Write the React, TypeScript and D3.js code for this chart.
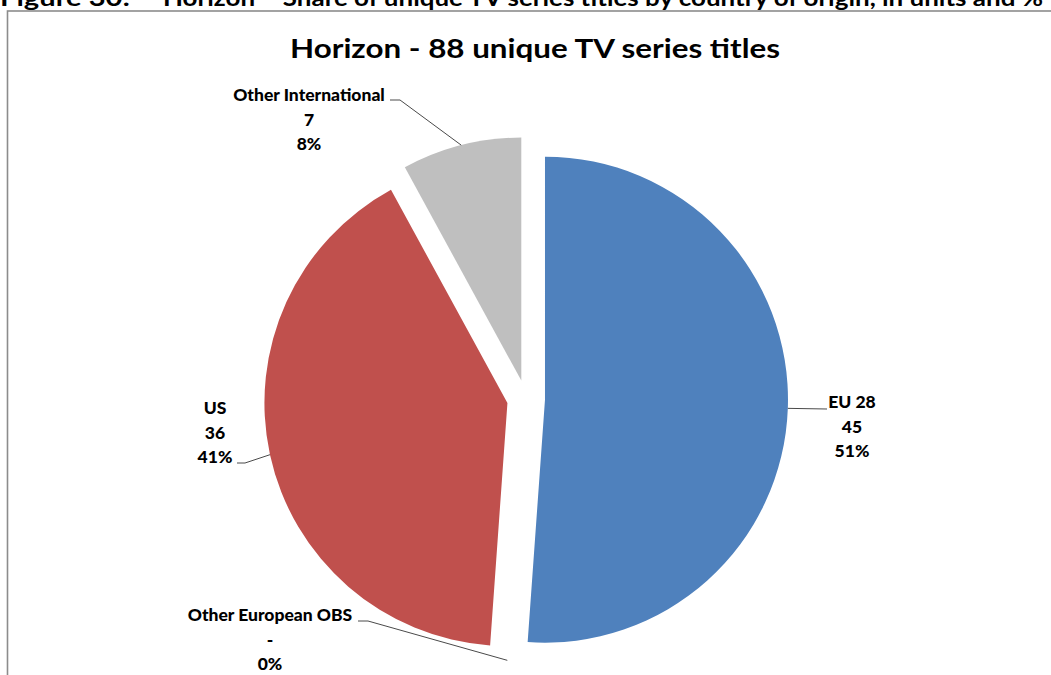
import React from "react";
import * as d3 from "d3";

const categories = ["EU 28", "Other European OBS", "US", "Other International"];
const values = [45, 0, 36, 7];
const valueLabels = ["45", "-", "36", "7"];
const colors = ["#4F81BD", "#8064A2", "#C0504D", "#BFBFBF"];
const chartTitle = "Horizon - 88 unique TV series titles";
const captionLead = "Figure 30:";
const captionText = "Horizon \u2013 Share of unique TV series titles by country of origin, in units and %";

// label layout: center x, first baseline y, leader elbow x, leader end x, leader y
const labelLayout: Record<string, { x: number; y: number; elbow: number; end: number; ly: number }> = {
  "EU 28": { x: 852, y: 408, elbow: 827, end: 827, ly: 409 },
  "Other European OBS": { x: 270, y: 621, elbow: 368, end: 358, ly: 621 },
  US: { x: 215, y: 414, elbow: 245, end: 237, ly: 463 },
  "Other International": { x: 309, y: 101, elbow: 400, end: 390, ly: 100 },
};

export default function App() {
  const W = 1051;
  const H = 675;
  const cx = 526;
  const cy = 399;
  const r = 243;
  const explode = 19;
  const total = d3.sum(values);

  const pie = d3
    .pie<number>()
    .sort(null)
    .startAngle(0)
    .endAngle(2 * Math.PI)
    .value((d) => d);
  const arcs = pie(values);
  const arcGen = d3.arc<d3.PieArcDatum<number>>().innerRadius(0).outerRadius(r);

  const dir = (a: number) => [Math.sin(a), -Math.cos(a)];
  const font = "Lato, 'Open Sans', sans-serif";

  return (
    <svg
      width={W}
      height={H}
      style={{ position: "absolute", left: 0, top: 0, background: "#fff" }}
    >
      <rect x={0} y={0} width={W} height={H} fill="#fff" />
      <text
        x={0}
        y={6}
        fontFamily={font}
        fontWeight="bold"
        fontSize={22}
        fill="#000"
        textLength={130}
        lengthAdjust="spacingAndGlyphs"
      >
        {captionLead}
      </text>
      <text
        x={163}
        y={6}
        fontFamily={font}
        fontWeight="bold"
        fontSize={22}
        fill="#000"
        textLength={880}
        lengthAdjust="spacingAndGlyphs"
      >
        {captionText}
      </text>
      <rect
        x={7.5}
        y={11}
        width={W + 20}
        height={H + 20}
        fill="#fff"
        stroke="#8c8c8c"
        strokeWidth={1.6}
      />
      <text
        x={535}
        y={58}
        textAnchor="middle"
        fontFamily={font}
        fontWeight="bold"
        fontSize={26}
        fill="#000"
        textLength={490}
        lengthAdjust="spacingAndGlyphs"
      >
        {chartTitle}
      </text>
      {arcs.map((a, i) => {
        const mid = (a.startAngle + a.endAngle) / 2;
        const [dx, dy] = dir(mid);
        const ox = cx + dx * explode;
        const oy = cy + dy * explode;
        return a.value > 0 ? (
          <path
            key={categories[i]}
            d={arcGen(a) || ""}
            transform={`translate(${ox},${oy})`}
            fill={colors[i]}
          />
        ) : null;
      })}
      {arcs.map((a, i) => {
        const mid = (a.startAngle + a.endAngle) / 2;
        const [dx, dy] = dir(mid);
        const px = cx + dx * (explode + r);
        const py = cy + dy * (explode + r);
        const lay = labelLayout[categories[i]];
        const pct = Math.round((values[i] / total) * 100) + "%";
        return (
          <g key={"lab" + i}>
            <polyline
              points={`${px},${py} ${lay.elbow},${lay.ly} ${lay.end},${lay.ly}`}
              fill="none"
              stroke="#4a4a4a"
              strokeWidth={1}
            />
            <text
              x={lay.x}
              textAnchor="middle"
              fontFamily={font}
              fontWeight="900"
              fontSize={17.5}
              fill="#000"
            >
              <tspan x={lay.x} y={lay.y}>
                {categories[i]}
              </tspan>
              <tspan x={lay.x} y={lay.y + 24.5}>
                {valueLabels[i]}
              </tspan>
              <tspan x={lay.x} y={lay.y + 49}>
                {pct}
              </tspan>
            </text>
          </g>
        );
      })}
    </svg>
  );
}
